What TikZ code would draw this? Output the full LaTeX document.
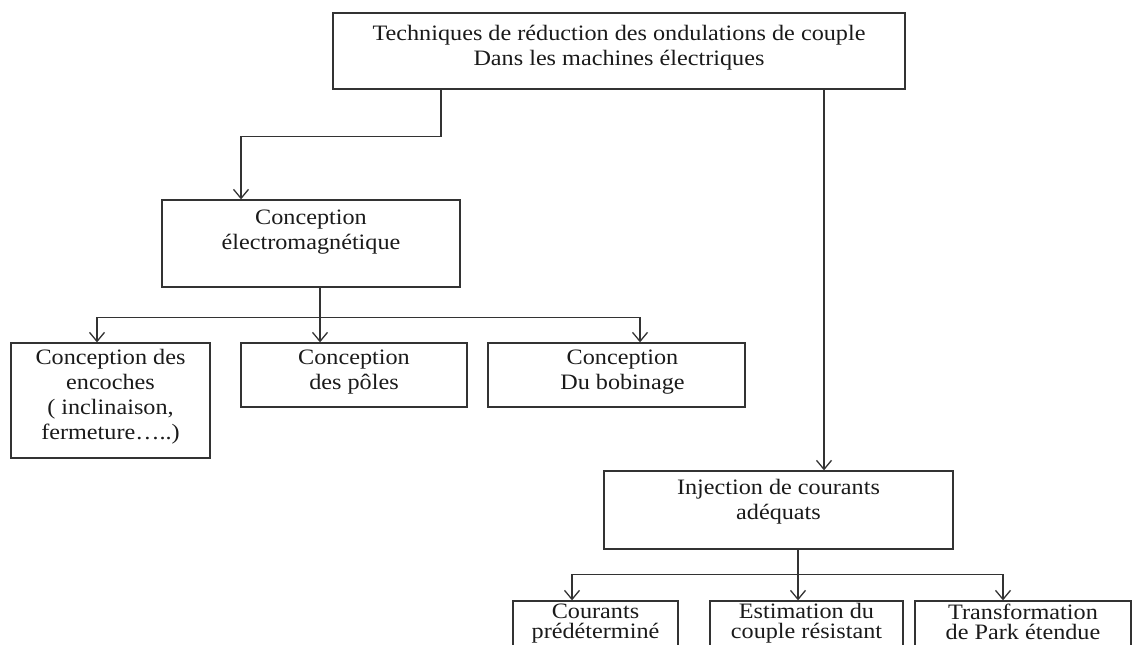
\documentclass[tikz,border=0pt]{standalone}
\usepackage{fontspec}
\setmainfont[FakeStretch=1.1]{Liberation Serif}
\usetikzlibrary{arrows.meta}
\definecolor{trqLine}{HTML}{333333}
\definecolor{trqInk}{HTML}{1A1A1A}
\tikzset{
  trq box/.style={draw=trqLine, line width=1.3pt, inner sep=0pt},
  trq text/.style={font=\fontsize{22}{25}\selectfont, text=trqInk, align=center, anchor=north, inner sep=0pt},
  trq tight text/.style={trq text, font=\fontsize{22}{20}\selectfont},
  trq link/.style={draw=trqLine, line width=1.3pt},
  trq arrow/.style={trq link, -{Straight Barb[length=9pt,width=15pt]}},
}
\begin{document}
\begin{tikzpicture}[x=1pt,y=-1pt]
  \useasboundingbox (0,0) rectangle (1136,645);
  \clip (0,0) rectangle (1136,645);

  % Main box
  \node[trq box, minimum width=572pt, minimum height=76pt] (top) at (619,51) {};
  \node[trq text] (topText) at ([yshift=-12.5pt]top.north)
    {Techniques de réduction des ondulations de couple\\Dans les machines électriques};

  % Left branch: design
  \node[trq box, minimum width=298pt, minimum height=87pt] (em) at (311,243.5) {};
  \node[trq text] (emText) at ([yshift=-10.5pt]em.north) {Conception\\électromagnétique};

  \node[trq box, minimum width=199pt, minimum height=115pt] (enc) at (110.5,400.5) {};
  \node[trq text] (encText) at ([yshift=-7pt]enc.north)
    {Conception des\\encoches\\( inclinaison,\\fermeture…..)};

  \node[trq box, minimum width=226pt, minimum height=64pt] (pol) at (354,375) {};
  \node[trq text] (polText) at ([yshift=-7pt]pol.north) {Conception\\des pôles};

  \node[trq box, minimum width=257pt, minimum height=64pt] (bob) at (616.5,375) {};
  \node[trq text] (bobText) at ([xshift=6pt,yshift=-7pt]bob.north) {Conception\\Du bobinage};

  % Right branch: control
  \node[trq box, minimum width=349pt, minimum height=78pt] (inj) at (778.5,510) {};
  \node[trq text] (injText) at ([yshift=-9pt]inj.north) {Injection de courants\\adéquats};

  \node[trq box, minimum width=165pt, minimum height=79pt] (cour) at (595.5,640.5) {};
  \node[trq tight text] (courText) at ([yshift=-3pt]cour.north) {Courants\\prédéterminé};

  \node[trq box, minimum width=193pt, minimum height=79pt] (est) at (806.5,640.5) {};
  \node[trq tight text] (estText) at ([yshift=-3pt]est.north) {Estimation du\\couple résistant};

  \node[trq box, minimum width=216pt, minimum height=79pt] (park) at (1023,640.5) {};
  \node[trq tight text] (parkText) at ([yshift=-3pt]park.north) {Transformation\\de Park étendue};

  % Connectors
  \draw[trq arrow] ([xshift=-178pt]top.south) -- ++(0,47) -| ([xshift=-70pt]em.north);
  \draw[trq arrow] ([xshift=205pt]top.south) -- ([xshift=45.5pt]inj.north);

  \draw[trq link] ([xshift=9pt]em.south) -- ++(0,30) coordinate (emBus);
  \draw[trq arrow] (emBus) -| ([xshift=-13.5pt]enc.north);
  \draw[trq arrow] (emBus) -- ([xshift=-34pt]pol.north);
  \draw[trq arrow] (emBus) -| ([xshift=23.5pt]bob.north);

  \draw[trq link] ([xshift=19.5pt]inj.south) -- ++(0,25) coordinate (injBus);
  \draw[trq arrow] (injBus) -| ([xshift=-23.5pt]cour.north);
  \draw[trq arrow] (injBus) -- ([xshift=-8.5pt]est.north);
  \draw[trq arrow] (injBus) -| ([xshift=-20pt]park.north);
\end{tikzpicture}
\end{document}
